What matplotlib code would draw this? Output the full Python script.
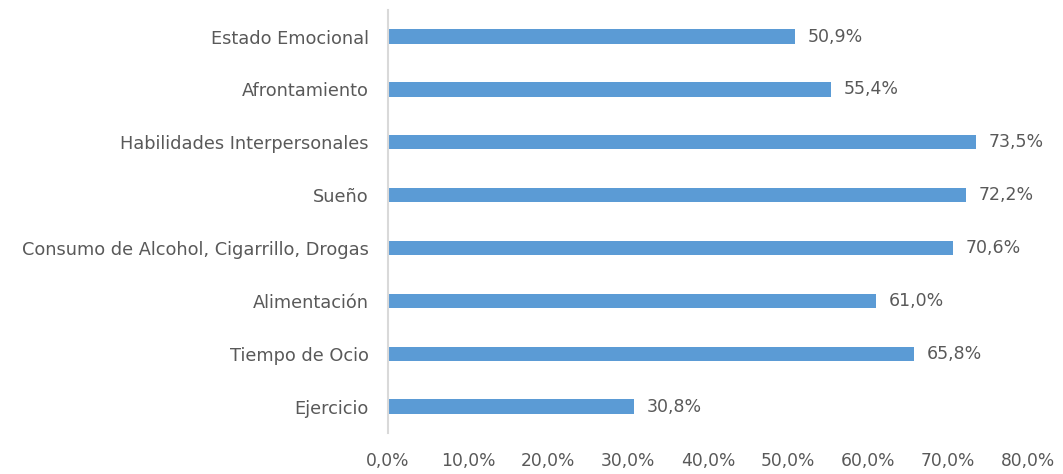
import matplotlib
matplotlib.use("Agg")
import matplotlib.pyplot as plt

categories = ["Estado Emocional", "Afrontamiento", "Habilidades Interpersonales", "Sueño",
              "Consumo de Alcohol, Cigarrillo, Drogas", "Alimentación", "Tiempo de Ocio", "Ejercicio"]
values = [50.9, 55.4, 73.5, 72.2, 70.6, 61.0, 65.8, 30.8]
xticks = [0, 10, 20, 30, 40, 50, 60, 70, 80]

text_color = "#595959"
bar_color = "#5b9bd5"

fig = plt.figure(figsize=(10.63, 4.74), dpi=100)
ax = fig.add_axes([0.365, 0.0865, 0.602, 0.892])

n = len(categories)
ypos = list(range(n - 1, -1, -1))
ax.barh(ypos, values, height=0.27, color=bar_color)
for y, v in zip(ypos, values):
    ax.text(v + 1.6, y, f"{v:.1f}%".replace(".", ","), va="center", ha="left",
            fontsize=12.5, color=text_color)

ax.set_xlim(0, 80)
ax.set_ylim(-0.5, n - 0.5)
ax.set_yticks(ypos)
ax.set_yticklabels(categories, fontsize=12.8, color=text_color)
ax.set_xticks(xticks)
ax.set_xticklabels([f"{t:.1f}%".replace(".", ",") for t in xticks], fontsize=12.3, color=text_color)
ax.tick_params(axis="both", length=0)
ax.tick_params(axis="y", pad=14)
ax.tick_params(axis="x", pad=14)
for s in ["top", "right", "bottom"]:
    ax.spines[s].set_visible(False)
ax.spines["left"].set_color("#d9d9d9")
ax.spines["left"].set_linewidth(1.5)

fig.savefig("out.png", dpi=100)
